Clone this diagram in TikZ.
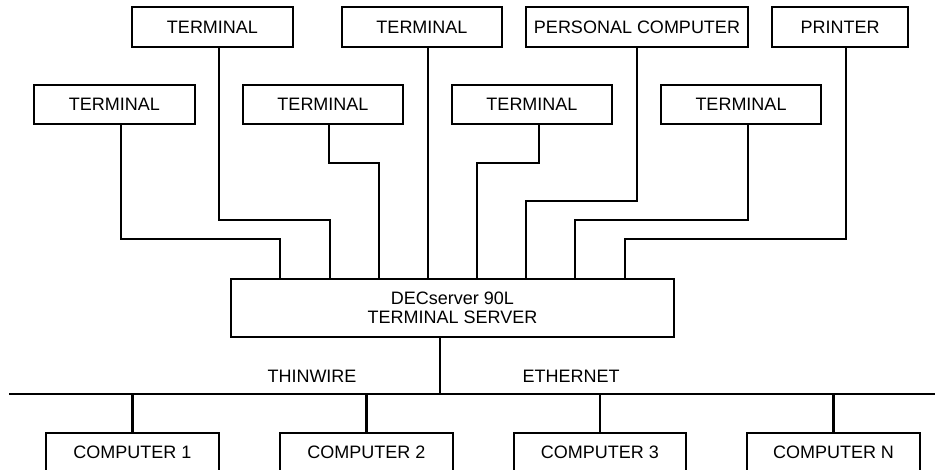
\documentclass[tikz,border=0pt]{standalone}
\usepackage{fontspec}
\setmainfont{Liberation Sans}
\begin{document}
\begin{tikzpicture}[x=1pt,y=-1pt,
  box/.style={draw,line width=1.2pt,inner sep=0pt,font=\fontsize{18}{19}\selectfont,align=center},
  wire/.style={line width=1.2pt},
  bus/.style={line width=2.6pt}]
\useasboundingbox (0,0) rectangle (935,470);
% top row
\node[box,minimum width=161,minimum height=40] (ta) at (212.5,27) {TERMINAL};
\node[box,minimum width=160,minimum height=40] (tb) at (422,27) {TERMINAL};
\node[box,minimum width=222,minimum height=40] (pc) at (637,27) {PERSONAL COMPUTER};
\node[box,minimum width=136,minimum height=40] (pr) at (840,27) {PRINTER};
% second row
\node[box,minimum width=161,minimum height=39] (r1) at (114.5,104.5) {TERMINAL};
\node[box,minimum width=160,minimum height=39] (r2) at (323,104.5) {TERMINAL};
\node[box,minimum width=160,minimum height=39] (r3) at (532,104.5) {TERMINAL};
\node[box,minimum width=160,minimum height=39] (r4) at (741,104.5) {TERMINAL};
% server
\node[box,minimum width=443,minimum height=58] (srv) at (452.5,308) {DECserver 90L\\TERMINAL SERVER};
% computers
\node[box,minimum width=173,minimum height=38] (c1) at (132.5,452) {COMPUTER 1};
\node[box,minimum width=173,minimum height=38] (c2) at (366.5,452) {COMPUTER 2};
\node[box,minimum width=172,minimum height=38] (c3) at (600,452) {COMPUTER 3};
\node[box,minimum width=173,minimum height=38] (cn) at (833.5,452) {COMPUTER N};
% connectors to server
\draw[wire] (r1.south -| 121,0) -- (121,239) -- (280,239) -- (srv.north -| 280,0);
\draw[wire] (ta.south -| 219,0) -- (219,220) -- (330,220) -- (srv.north -| 330,0);
\draw[wire] (r2.south -| 329,0) -- (329,163) -- (379,163) -- (srv.north -| 379,0);
\draw[wire] (tb.south -| 428,0) -- (srv.north -| 428,0);
\draw[wire] (r3.south -| 539,0) -- (539,163) -- (477,163) -- (srv.north -| 477,0);
\draw[wire] (pc.south -| 637,0) -- (637,201) -- (526,201) -- (srv.north -| 526,0);
\draw[wire] (r4.south -| 748,0) -- (748,220) -- (575,220) -- (srv.north -| 575,0);
\draw[wire] (pr.south -| 846,0) -- (846,239) -- (625,239) -- (srv.north -| 625,0);
% bus
\coordinate (busL) at (9,394);
\coordinate (busR) at (940,394);
\draw[bus] (busL) -- (busR);
\draw[bus] (srv.south -| 440,0) -- (busL -| 440,0);
\draw[bus] (busL -| c1.north) -- (c1.north);
\draw[bus] (busL -| c2.north) -- (c2.north);
\draw[bus] (busL -| c3.north) -- (c3.north);
\draw[bus] (busL -| cn.north) -- (cn.north);
% labels
\node[font=\fontsize{18}{19}\selectfont] (thin) at (312,376) {THINWIRE};
\node[font=\fontsize{18}{19}\selectfont] (eth) at (571,376) {ETHERNET};
\end{tikzpicture}
\end{document}
